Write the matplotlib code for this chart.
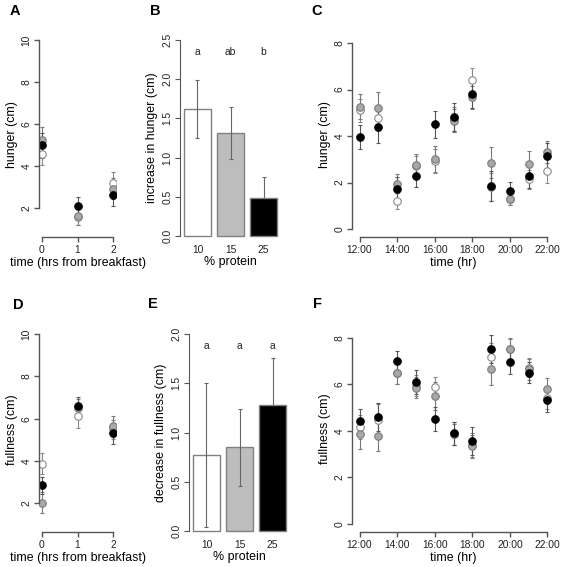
import numpy as np
import matplotlib.pyplot as plt

plt.rcParams['font.family'] = ['Liberation Sans', 'DejaVu Sans']

# panels A / D: hours from breakfast
t_bf = [0, 1, 2]
hunger_bf_10 = [4.59, 1.60, 3.23]
hunger_bf_15 = [5.26, 1.63, 2.94]
hunger_bf_25 = [4.99, 2.13, 2.62]
hunger_bf_err_10 = [0.55, 0.40, 0.50]
hunger_bf_err_15 = [0.60, 0.40, 0.50]
hunger_bf_err_25 = [0.60, 0.40, 0.50]

full_bf_10 = [3.86, 6.14, 5.50]
full_bf_15 = [2.03, 6.50, 5.65]
full_bf_25 = [2.86, 6.58, 5.31]
full_bf_err_10 = [0.50, 0.60, 0.45]
full_bf_err_15 = [0.50, 0.45, 0.50]
full_bf_err_25 = [0.40, 0.45, 0.50]

# panels B / E: bars
protein = ['10', '15', '25']
hunger_inc = [1.62, 1.31, 0.49]
hunger_inc_err = [0.37, 0.33, 0.26]
hunger_letters = ['a', 'ab', 'b']
full_dec = [0.77, 0.85, 1.28]
full_dec_err = [0.73, 0.39, 0.48]
full_letters = ['a', 'a', 'a']

# panels C / F: clock time
hours = list(range(12, 23))
hour_labels = ['12:00', '14:00', '16:00', '18:00', '20:00', '22:00']
hunger_10 = [5.11, 4.79, 1.21, 2.70, 2.93, 4.74, 6.40, 1.82, 1.28, 2.14, 2.50]
hunger_15 = [5.27, 5.20, 1.96, 2.74, 3.00, 4.67, 5.67, 2.86, 1.29, 2.81, 3.31]
hunger_25 = [3.96, 4.39, 1.73, 2.30, 4.50, 4.81, 5.79, 1.86, 1.64, 2.27, 3.14]
hunger_err_10 = [0.50, 0.55, 0.35, 0.45, 0.50, 0.50, 0.53, 0.60, 0.25, 0.40, 0.50]
hunger_err_15 = [0.54, 0.69, 0.40, 0.47, 0.56, 0.50, 0.50, 0.67, 0.25, 0.55, 0.48]
hunger_err_25 = [0.52, 0.70, 0.50, 0.47, 0.56, 0.60, 0.60, 0.65, 0.39, 0.52, 0.55]

full_10 = [4.17, 4.47, 6.50, 5.93, 5.89, 3.88, 3.39, 7.19, 7.50, 6.71, 5.43]
full_15 = [3.86, 3.79, 6.50, 5.86, 5.50, 3.86, 3.33, 6.64, 7.50, 6.64, 5.79]
full_25 = [4.43, 4.60, 6.99, 6.10, 4.50, 3.90, 3.56, 7.50, 6.97, 6.50, 5.31]
full_err_10 = [0.50, 0.70, 0.50, 0.45, 0.44, 0.50, 0.50, 0.60, 0.45, 0.40, 0.50]
full_err_15 = [0.65, 0.65, 0.50, 0.47, 0.60, 0.45, 0.50, 0.67, 0.47, 0.45, 0.47]
full_err_25 = [0.50, 0.60, 0.44, 0.53, 0.51, 0.50, 0.60, 0.60, 0.55, 0.45, 0.50]

W, H = 563, 567
fig = plt.figure(figsize=(W / 100, H / 100), dpi=100)


def add_ax(left, right, top, bottom):
    return fig.add_axes([left / W, 1 - bottom / H, (right - left) / W, (bottom - top) / H])


AXC = '#555555'
TICK_FS = 7.4
LAB_FS = 8.9

styles = [
    dict(mfc='white', mec='#8a8a8a', ecolor='#8a8a8a'),
    dict(mfc='#a8a8a8', mec='#7a7a7a', ecolor='#7a7a7a'),
    dict(mfc='black', mec='black', ecolor='#555555'),
]


def r_axes(ax, xb, yb, yticks, ylabel, xlabel):
    for s in ['top', 'right']:
        ax.spines[s].set_visible(False)
    ax.spines['left'].set_bounds(*yb)
    ax.spines['bottom'].set_bounds(*xb)
    for s in ['left', 'bottom']:
        ax.spines[s].set_color(AXC)
        ax.spines[s].set_linewidth(1.0)
    ax.set_yticks(yticks)
    ax.tick_params(colors=AXC, labelcolor='#222222', labelsize=TICK_FS, length=3.5, width=1.0, pad=2)
    for lbl in ax.get_yticklabels():
        lbl.set_rotation(90)
        lbl.set_va('center')
    ax.set_ylabel(ylabel, fontsize=LAB_FS, labelpad=2.5)
    ax.set_xlabel(xlabel, fontsize=LAB_FS, labelpad=1.5)


def points(ax, x, ys, errs):
    for y, e, st in zip(ys, errs, styles):
        ax.errorbar(x, y, yerr=e, fmt='o', ms=5.4, mew=0.8, mfc=st['mfc'], mec=st['mec'],
                    ecolor=st['ecolor'], elinewidth=0.8, capsize=1.6, capthick=0.8)


def bars(ax, vals, errs, letters, ymax, ylabel):
    xs = [0.7, 1.9, 3.1]
    fills = ['white', '#bdbdbd', 'black']
    # black bar is drawn over its error bar, as in the original
    for x, v, c in zip(xs, vals, fills):
        ax.bar(x, v, width=1.0, color=c, edgecolor='#808080', linewidth=1.0,
               zorder=3 if c == 'black' else 1)
    ax.errorbar(xs, vals, yerr=errs, fmt='none', ecolor='#666666', elinewidth=0.8,
                capsize=1.6, capthick=0.8, zorder=2)
    for x, l in zip(xs, letters):
        ax.text(x, ymax * 0.94, l, ha='center', va='center', fontsize=TICK_FS, color='#222222')
    ax.set_xlim(0.064, 3.736)
    ax.set_ylim(-0.04 * ymax, ymax * 1.04)
    for s in ['top', 'right', 'bottom']:
        ax.spines[s].set_visible(False)
    ax.spines['left'].set_bounds(0, ymax)
    ax.spines['left'].set_color(AXC)
    ax.set_yticks(np.arange(0, ymax + 0.01, 0.5))
    ax.set_yticklabels([f'{v:.1f}' for v in np.arange(0, ymax + 0.01, 0.5)])
    ax.set_xticks(xs)
    ax.set_xticklabels(protein)
    ax.tick_params(axis='y', colors=AXC, labelcolor='#222222', labelsize=TICK_FS, length=3.5, pad=2)
    ax.tick_params(axis='x', length=0, labelsize=TICK_FS, labelcolor='#222222', pad=0.5)
    for lbl in ax.get_yticklabels():
        lbl.set_rotation(90)
        lbl.set_va('center')
    ax.set_ylabel(ylabel, fontsize=LAB_FS, labelpad=3)
    ax.set_xlabel('% protein', fontsize=LAB_FS, labelpad=1)


# A
axA = add_ax(39, 116, 32.5, 237)
points(axA, t_bf, [hunger_bf_10, hunger_bf_15, hunger_bf_25],
       [hunger_bf_err_10, hunger_bf_err_15, hunger_bf_err_25])
axA.set_xlim(-0.08, 2.08)
axA.set_ylim(0.64, 10.36)
axA.set_xticks(t_bf)
r_axes(axA, (0, 2), (2, 10), [2, 4, 6, 8, 10], 'hunger (cm)', 'time (hrs from breakfast)')

# D
axD = add_ax(39, 116, 326.5, 532)
points(axD, t_bf, [full_bf_10, full_bf_15, full_bf_25],
       [full_bf_err_10, full_bf_err_15, full_bf_err_25])
axD.set_xlim(-0.08, 2.08)
axD.set_ylim(0.64, 10.36)
axD.set_xticks(t_bf)
r_axes(axD, (0, 2), (2, 10), [2, 4, 6, 8, 10], 'fullness (cm)', 'time (hrs from breakfast)')

# B
axB = add_ax(180, 281, 32, 244)
bars(axB, hunger_inc, hunger_inc_err, hunger_letters, 2.5, 'increase in hunger (cm)')

# E
axE = add_ax(189, 290, 326, 539)
bars(axE, full_dec, full_dec_err, full_letters, 2.0, 'decrease in fullness (cm)')

# C
axC = add_ax(352, 555, 31.5, 237)
points(axC, hours, [hunger_10, hunger_15, hunger_25], [hunger_err_10, hunger_err_15, hunger_err_25])
axC.set_xlim(11.6, 22.4)
axC.set_ylim(-0.34, 8.5)
axC.set_xticks(hours[::2])
axC.set_xticklabels(hour_labels)
r_axes(axC, (12, 22), (0, 8), [0, 2, 4, 6, 8], 'hunger (cm)', 'time (hr)')

# F
axF = add_ax(352, 555, 326, 532)
points(axF, hours, [full_10, full_15, full_25], [full_err_10, full_err_15, full_err_25])
axF.set_xlim(11.6, 22.4)
axF.set_ylim(-0.34, 8.5)
axF.set_xticks(hours[::2])
axF.set_xticklabels(hour_labels)
r_axes(axF, (12, 22), (0, 8), [0, 2, 4, 6, 8], 'fullness (cm)', 'time (hr)')

for letter, x, y in [('A', 15, 11), ('B', 155, 11), ('C', 317, 11),
                     ('D', 18, 305), ('E', 153, 304), ('F', 317, 304)]:
    fig.text(x / W, 1 - y / H, letter, fontsize=10.5, fontweight='bold', ha='center', va='center')

fig.savefig('out.png', dpi=100)
